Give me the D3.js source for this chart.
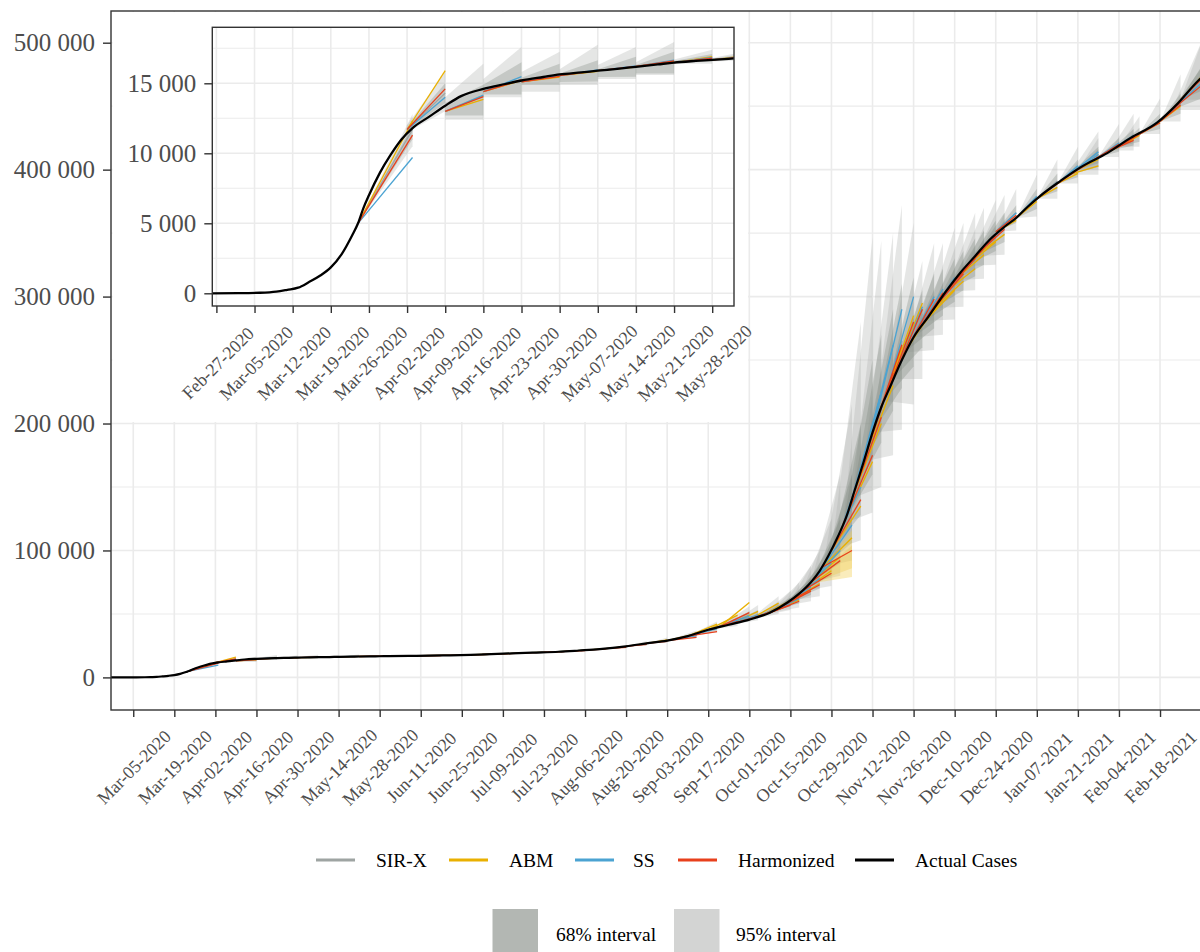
<!DOCTYPE html>
<html><head><meta charset="utf-8">
<script src="https://cdn.jsdelivr.net/npm/d3@7"></script>
<style>
body{margin:0;background:#fff}
text{font-family:"Liberation Serif","Times New Roman",serif}
</style>
</head><body>
<svg id="c" width="1200" height="952"></svg>
<script>
// ---------------- DATA ----------------
const actualDates = ["2020-02-26","2020-03-02","2020-03-06","2020-03-09","2020-03-11","2020-03-13","2020-03-15","2020-03-17","2020-03-19","2020-03-21","2020-03-23","2020-03-24","2020-03-25","2020-03-26","2020-03-28","2020-03-30","2020-04-01","2020-04-03","2020-04-06","2020-04-09","2020-04-12","2020-04-16","2020-04-20","2020-04-23","2020-04-27","2020-04-30","2020-05-04","2020-05-07","2020-05-11","2020-05-14","2020-05-18","2020-05-21","2020-05-25","2020-05-28","2020-05-31","2020-06-07","2020-06-14","2020-06-21","2020-06-28","2020-07-05","2020-07-12","2020-07-19","2020-07-28","2020-08-04","2020-08-11","2020-08-20","2020-08-27","2020-09-03","2020-09-10","2020-09-17","2020-09-24","2020-10-01","2020-10-08","2020-10-14","2020-10-18","2020-10-22","2020-10-25","2020-10-28","2020-10-31","2020-11-03","2020-11-06","2020-11-09","2020-11-12","2020-11-15","2020-11-18","2020-11-22","2020-11-26","2020-12-01","2020-12-07","2020-12-12","2020-12-17","2020-12-22","2020-12-27","2020-12-31","2021-01-04","2021-01-08","2021-01-15","2021-01-22","2021-01-31","2021-02-08","2021-02-17","2021-02-24","2021-03-03","2021-03-07"];
const actualValues = [0,10,40,120,250,400,800,1250,1850,2800,4200,5000,6100,7000,8600,9900,11000,11800,12600,13400,14100,14600,14950,15200,15450,15630,15780,15900,16050,16180,16350,16480,16600,16680,16750,16950,17150,17400,17750,18300,18900,19500,20200,21200,22300,24500,26800,29000,32500,37500,41500,45500,51000,59000,66000,75000,84000,96000,110000,126000,148000,170000,193000,213000,229000,250000,268000,284000,304000,319000,332000,345000,355000,362000,371000,379000,391000,402000,413000,425000,437000,452000,470000,478000];

// forecasts: origin date, horizon (days), start value, model end values, interval end values
const fcOrigin = ["2020-03-24","2020-04-02","2020-04-09","2020-04-16","2020-04-23","2020-04-30","2020-05-07","2020-05-14","2020-05-21","2020-05-28",
"2020-06-04","2020-06-11","2020-06-18","2020-06-25","2020-07-02","2020-07-09","2020-07-16","2020-07-23","2020-07-30","2020-08-06","2020-08-13","2020-08-20","2020-08-27",
"2020-09-03","2020-09-10","2020-09-17","2020-09-21","2020-09-24","2020-10-01","2020-10-05","2020-10-08","2020-10-12","2020-10-15","2020-10-19","2020-10-22","2020-10-26","2020-10-29","2020-11-02","2020-11-05","2020-11-09","2020-11-12","2020-11-16","2020-11-19","2020-11-23","2020-11-26","2020-11-30","2020-12-03","2020-12-07","2020-12-10","2020-12-14","2020-12-17",
"2020-12-24","2020-12-31","2021-01-07","2021-01-14","2021-01-18","2021-01-21","2021-01-28","2021-02-01","2021-02-04","2021-02-11","2021-02-18","2021-02-22","2021-02-25"];
const fcDays = [10,7,7,7,7,7,7,7,7,7,
7,7,7,7,7,7,7,7,7,7,7,7,7,
10,10,10,10,10,10,10,10,10,10,10,10,10,10,10,10,10,10,10,10,10,10,10,10,10,10,10,10,
7,7,7,7,10,7,7,8,7,7,7,10,10];
const fcStart = [5000,11700,13000,14400,15100,15550,15900,16200,16480,16680,
16870,17060,17290,17600,18050,18650,19250,19800,20500,21500,22600,24500,26800,
29000,32500,37500,40000,41500,45500,48500,51000,56000,60500,68000,75000,87000,100000,121000,141000,170000,193000,218000,235000,256000,268000,281000,291000,304000,313000,324000,332000,
351000,362000,377000,389000,396000,400000,410000,415000,418000,428000,438000,447000,455000];
const sirxEnd = [11700,14300,14100,15300,15550,15900,16200,16550,16800,16950,
17050,17280,17560,17980,18600,19200,19750,20450,21400,22500,24000,26500,29000,
33500,39000,45000,49000,49500,55000,59000,63000,72000,80000,93000,103000,125000,150000,185000,215000,245000,265000,282000,286000,295000,300000,313000,320000,333000,341000,351000,356000,
366000,378000,391000,402000,412000,411000,421000,425000,428000,438000,452000,470000,482000];
const abmEnd = [12300,15900,13850,15200,15450,15850,16150,16600,16900,17000,
17100,17320,17600,18050,18650,19250,19900,20500,21500,22600,24200,26800,29500,
34500,42000,49000,59000,52000,58500,60500,61000,69000,74000,84000,95000,110000,135000,170000,200000,230000,260000,285000,295000,292000,298000,305000,312000,322000,333000,343000,349000,
360000,375000,386000,397000,403000,408000,418000,424000,427000,437000,450000,473000,480000];
const ssEnd = [9700,14000,14150,15470,15600,15950,16250,16650,16850,16950,
17080,17300,17580,18000,18620,19250,19800,20500,21450,22550,24100,26400,28800,
33000,38500,44500,48500,49000,54500,58000,62000,71000,78000,90000,100000,120000,150000,190000,225000,262000,290000,300000,292000,300000,306000,315000,322000,331000,339000,349000,355000,
366000,379000,390000,403000,414000,412000,421000,427000,429000,439000,453000,468000,479000];
const harmEnd = [11300,14600,14050,15240,15500,15900,16200,16600,16800,16900,
17030,17250,17520,17920,18500,19100,19650,20300,21200,22200,23600,26000,28300,
31500,36000,44000,51000,48000,54000,57000,60000,68000,73000,82000,92000,100000,140000,175000,205000,240000,262000,280000,290000,298000,303000,312000,318000,330000,338000,348000,353000,
364000,377000,389000,400000,410000,410000,420000,423000,428000,437000,451000,466000,478000];
const lo95End = [10500,13000,12400,14000,14400,14880,15300,15600,16400,16650,
16900,17100,17350,17700,18200,18800,19350,19950,20800,21800,22900,24900,27200,
31000,35500,40500,44000,45000,50000,53000,55000,60000,64000,72000,80000,92000,108000,130000,150000,175000,195000,215000,235000,258000,270000,282000,292000,305000,314000,325000,333000,
352000,363000,377000,389000,396000,400000,410000,415000,418000,428000,438000,447000,455000];
const lo68End = [11000,13600,12700,14200,14880,15120,15470,15700,16550,16800,
16980,17200,17450,17850,18400,19000,19550,20200,21100,22100,23300,25600,28000,
32000,37000,42500,46000,47500,53000,56000,58500,65000,70000,80000,90000,106000,128000,160000,185000,210000,228000,245000,260000,275000,285000,296000,305000,316000,325000,336000,343000,
358000,369000,383000,394000,402000,405000,414000,419000,422000,432000,444000,456000,465000];
const hi68End = [12000,15000,14900,16500,16400,16650,16900,17250,17100,17150,
17150,17380,17700,18150,18800,19450,20000,20750,21800,22900,24600,27300,29900,
35000,41000,47000,52000,53000,59000,63000,68000,78000,88000,105000,125000,160000,200000,250000,270000,290000,310000,315000,305000,318000,322000,330000,336000,346000,352000,360000,366000,
372000,385000,397000,408000,418000,416000,425000,432000,433000,444000,460000,480000,492000];
const hi95End = [12800,15800,16400,17600,17250,17750,17600,17950,17400,17350,
17300,17550,17900,18400,19100,19800,20400,21200,22400,23600,25600,28600,31500,
37000,44000,50000,56000,57000,64000,68000,75000,88000,100000,125000,160000,215000,280000,347000,344000,350000,372000,358000,328000,342000,342000,354000,358000,366000,370000,376000,380000,
385000,396000,408000,418000,430000,425000,436000,444000,442000,456000,475000,500000,518000];
// interval widths at the forecast origin (first weeks)
const bandStartLo95 = [5000,11500,12400,14000,14400,14880,15300,15600,16400,16550];
const bandStartLo68 = [5000,11600,12700,14200,14880,15100,15450,15700,16450,16600];
const bandStartHi68 = [5000,11850,13600,14900,15400,15700,16000,16300,16600,16750];
const bandStartHi95 = [5000,12000,14000,15300,15800,16000,16300,16500,16700,16800];
// ABM interval (yellow)
const abmBandOrigin = ["2020-10-22"];
const abmBandDays = [14];
const abmBandStart = [[74000,76000]];
const abmBandEnd95 = [[79000,116000]];
const abmBandEnd68 = [[86000,104000]];

const mainXTicks = ["2020-03-05","2020-03-19","2020-04-02","2020-04-16","2020-04-30","2020-05-14","2020-05-28","2020-06-11","2020-06-25","2020-07-09","2020-07-23","2020-08-06","2020-08-20","2020-09-03","2020-09-17","2020-10-01","2020-10-15","2020-10-29","2020-11-12","2020-11-26","2020-12-10","2020-12-24","2021-01-07","2021-01-21","2021-02-04","2021-02-18"];
const mainYTicks = [0,100000,200000,300000,400000,500000];
const mainYMinor = [50000,150000,250000,350000,450000];
const insetXTicks = ["2020-02-27","2020-03-05","2020-03-12","2020-03-19","2020-03-26","2020-04-02","2020-04-09","2020-04-16","2020-04-23","2020-04-30","2020-05-07","2020-05-14","2020-05-21","2020-05-28"];
const insetYTicks = [0,5000,10000,15000];
const insetYMinor = [2500,7500,12500,17500];

const models = ["SIR-X","ABM","SS","Harmonized"];
const modelColors = ["#9ea4a2","#e9b000","#4ba3d2","#e8401c"];
const modelEnds = [sirxEnd, abmEnd, ssEnd, harmEnd];

// ---------------- SETUP ----------------
const svg = d3.select("#c");
const parse = d3.utcParse("%Y-%m-%d");
const fmtDate = d3.utcFormat("%b-%d-%Y");
const fmtNum = d3.formatLocale({decimal:".",thousands:" ",grouping:[3],currency:["",""]}).format(",");
const GRID = "#ebebeb", AX = "#333333", TXT = "#4d4d4d";

const actual = actualDates.map((d,i)=>({t:parse(d), v:actualValues[i]}));
const forecasts = fcOrigin.map((d,i)=>{
  const t0 = parse(d), t1 = d3.utcDay.offset(t0, fcDays[i]);
  const s = fcStart[i];
  return {t0,t1,s,
    ends: modelEnds.map(a=>a[i]),
    b95:[{t:t0,lo:bandStartLo95[i] ?? s,hi:bandStartHi95[i] ?? s},{t:t1,lo:lo95End[i],hi:hi95End[i]}],
    b68:[{t:t0,lo:bandStartLo68[i] ?? s,hi:bandStartHi68[i] ?? s},{t:t1,lo:lo68End[i],hi:hi68End[i]}]
  };
});
const abmBands = abmBandOrigin.map((d,i)=>{
  const t0=parse(d), t1=d3.utcDay.offset(t0, abmBandDays[i]);
  return {b95:[{t:t0,lo:abmBandStart[i][0],hi:abmBandStart[i][1]},{t:t1,lo:abmBandEnd95[i][0],hi:abmBandEnd95[i][1]}],
          b68:[{t:t0,lo:abmBandStart[i][0],hi:abmBandStart[i][1]},{t:t1,lo:abmBandEnd68[i][0],hi:abmBandEnd68[i][1]}]};
});

function drawPanel(g, xs, ys, clipId, lw, blw){
  const area = d3.area().x(d=>xs(d.t)).y0(d=>ys(d.lo)).y1(d=>ys(d.hi));
  const dg = g.append("g").attr("clip-path",`url(#${clipId})`);
  dg.selectAll("path.b95").data(forecasts).join("path").attr("class","b95")
    .attr("d",f=>area(f.b95)).attr("fill","#a9ada9").attr("fill-opacity",0.30);
  dg.selectAll("path.b68").data(forecasts).join("path").attr("class","b68")
    .attr("d",f=>area(f.b68)).attr("fill","#7c857c").attr("fill-opacity",0.30);
  dg.selectAll("path.a95").data(abmBands).join("path").attr("class","a95")
    .attr("d",f=>area(f.b95)).attr("fill","#f3cf55").attr("fill-opacity",0.40);
  dg.selectAll("path.a68").data(abmBands).join("path").attr("class","a68")
    .attr("d",f=>area(f.b68)).attr("fill","#efc23a").attr("fill-opacity",0.30);
  const line = d3.line().x(d=>xs(d.t)).y(d=>ys(d.v));
  models.forEach((m,k)=>{
    dg.selectAll("path.m"+k).data(forecasts).join("path").attr("class","m"+k)
      .attr("d",f=>line([{t:f.t0,v:f.s},{t:f.t1,v:f.ends[k]}]))
      .attr("fill","none").attr("stroke",modelColors[k]).attr("stroke-width",lw);
  });
  dg.append("path").datum(actual)
    .attr("d", d3.line().x(d=>xs(d.t)).y(d=>ys(d.v)).curve(d3.curveMonotoneX))
    .attr("fill","none").attr("stroke","#000").attr("stroke-width",blw).attr("stroke-linejoin","round");
}

function styleAxis(sel, fs){
  sel.select(".domain").remove();
  sel.selectAll(".tick line").attr("stroke",AX).attr("stroke-width",1.4);
  sel.selectAll(".tick text").attr("fill",TXT).style("font-size",fs+"px")
    .style("font-family","'Liberation Serif','Times New Roman',serif");
}

const defs = svg.append("defs");

// ---------------- MAIN PANEL ----------------
const M = {l:111, t:11, r:1218.7, b:710};
const mx = d3.scaleUtc().domain([new Date(Date.UTC(2020,1,26,10)), new Date(Date.UTC(2021,2,10))]).range([M.l, M.r]);
const my = d3.scaleLinear().domain([-25681,524972]).range([M.b, M.t]);
defs.append("clipPath").attr("id","clipMain").append("rect")
  .attr("x",M.l).attr("y",M.t).attr("width",M.r-M.l).attr("height",M.b-M.t);

const gm = svg.append("g");
gm.append("rect").attr("x",M.l).attr("y",M.t).attr("width",M.r-M.l).attr("height",M.b-M.t).attr("fill","#fff");
gm.append("g").selectAll("line").data(mainYMinor).join("line")
  .attr("x1",M.l).attr("x2",M.r).attr("y1",d=>my(d)).attr("y2",d=>my(d)).attr("stroke",GRID).attr("stroke-width",1.1);
gm.append("g").selectAll("line").data(mainYTicks).join("line")
  .attr("x1",M.l).attr("x2",M.r).attr("y1",d=>my(d)).attr("y2",d=>my(d)).attr("stroke",GRID).attr("stroke-width",1.6);
gm.append("g").selectAll("line").data(mainXTicks).join("line")
  .attr("x1",d=>mx(parse(d))).attr("x2",d=>mx(parse(d))).attr("y1",M.t).attr("y2",M.b).attr("stroke",GRID).attr("stroke-width",1.6);

drawPanel(gm, mx, my, "clipMain", 1.3, 2.2);

gm.append("rect").attr("x",M.l).attr("y",M.t).attr("width",M.r-M.l).attr("height",M.b-M.t)
  .attr("fill","none").attr("stroke",AX).attr("stroke-width",1.4);

const ay = gm.append("g").attr("transform",`translate(${M.l},0)`)
  .call(d3.axisLeft(my).tickValues(mainYTicks).tickFormat(fmtNum).tickSize(8).tickPadding(8));
styleAxis(ay, 25);
const ax = gm.append("g").attr("transform",`translate(0,${M.b})`)
  .call(d3.axisBottom(mx).tickValues(mainXTicks.map(parse)).tickFormat(fmtDate).tickSize(7));
styleAxis(ax, 18);
ax.selectAll(".tick text").attr("y",0).attr("dy","0.35em").attr("text-anchor","middle")
  .attr("transform","translate(0,57) rotate(-45)");

// ---------------- INSET ----------------
const I = {l:212.3, t:27.3, r:734, b:306};
const ix = d3.scaleUtc().domain([new Date(Date.UTC(2020,1,26,6)), new Date(Date.UTC(2020,5,1))]).range([I.l, I.r]);
const iy = d3.scaleLinear().domain([-907,19000]).range([I.b, I.t]);
defs.append("clipPath").attr("id","clipInset").append("rect")
  .attr("x",I.l).attr("y",I.t).attr("width",I.r-I.l).attr("height",I.b-I.t);

const gi = svg.append("g");
gi.append("rect").attr("x",112.5).attr("y",12).attr("width",748-112.5).attr("height",422-12).attr("fill","#fff");
gi.append("g").selectAll("line").data(insetYMinor).join("line")
  .attr("x1",I.l).attr("x2",I.r).attr("y1",d=>iy(d)).attr("y2",d=>iy(d)).attr("stroke",GRID).attr("stroke-width",1.1);
gi.append("g").selectAll("line").data(insetYTicks).join("line")
  .attr("x1",I.l).attr("x2",I.r).attr("y1",d=>iy(d)).attr("y2",d=>iy(d)).attr("stroke",GRID).attr("stroke-width",1.6);
gi.append("g").selectAll("line").data(insetXTicks).join("line")
  .attr("x1",d=>ix(parse(d))).attr("x2",d=>ix(parse(d))).attr("y1",I.t).attr("y2",I.b).attr("stroke",GRID).attr("stroke-width",1.6);

drawPanel(gi, ix, iy, "clipInset", 1.3, 2.3);

gi.append("rect").attr("x",I.l).attr("y",I.t).attr("width",I.r-I.l).attr("height",I.b-I.t)
  .attr("fill","none").attr("stroke",AX).attr("stroke-width",1.4);
const iay = gi.append("g").attr("transform",`translate(${I.l},0)`)
  .call(d3.axisLeft(iy).tickValues(insetYTicks).tickFormat(fmtNum).tickSize(8).tickPadding(8));
styleAxis(iay, 25);
const iax = gi.append("g").attr("transform",`translate(0,${I.b})`)
  .call(d3.axisBottom(ix).tickValues(insetXTicks.map(parse)).tickFormat(fmtDate).tickSize(7));
styleAxis(iax, 18);
iax.selectAll(".tick text").attr("y",0).attr("dy","0.35em").attr("text-anchor","middle")
  .attr("transform","translate(1,57) rotate(-45)");

// ---------------- LEGEND ----------------
const lg = svg.append("g");
const legLines = [
  {name:"SIR-X", color:modelColors[0], x1:316, x2:355, tx:376},
  {name:"ABM", color:modelColors[1], x1:449, x2:488, tx:509},
  {name:"SS", color:modelColors[2], x1:575, x2:614, tx:633},
  {name:"Harmonized", color:modelColors[3], x1:678, x2:717, tx:738},
  {name:"Actual Cases", color:"#000", x1:855, x2:894, tx:915}
];
legLines.forEach(d=>{
  lg.append("line").attr("x1",d.x1).attr("x2",d.x2).attr("y1",860).attr("y2",860)
    .attr("stroke",d.color).attr("stroke-width",3);
  lg.append("text").attr("x",d.tx).attr("y",860).attr("dy","0.35em")
    .style("font-size","19.5px").attr("fill","#000").text(d.name);
});
const legBoxes = [
  {name:"68% interval", fill:"#b3b7b3", x:492.5, tx:556},
  {name:"95% interval", fill:"#d3d4d3", x:674, tx:736}
];
legBoxes.forEach(d=>{
  lg.append("rect").attr("x",d.x).attr("y",909).attr("width",45.5).attr("height",46).attr("fill",d.fill);
  lg.append("text").attr("x",d.tx).attr("y",934).attr("dy","0.35em")
    .style("font-size","19.5px").attr("fill","#000").text(d.name);
});
</script>
</body></html>
